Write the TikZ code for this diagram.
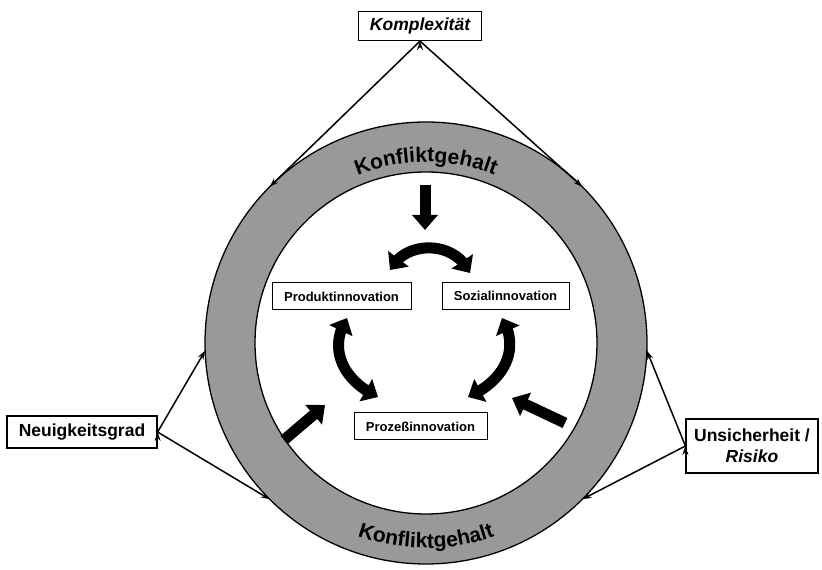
\documentclass[tikz,border=0pt]{standalone}
\usepackage{fontspec}
\setmainfont{Liberation Sans}
\usetikzlibrary{arrows.meta,bending,decorations.text}
\begin{document}
\begin{tikzpicture}[x=1pt,y=1pt]
\tikzstyle{factor}=[draw, line width=1.2pt, fill=white, inner sep=0pt, font=\fontsize{17.5}{21}\selectfont\bfseries]
\tikzstyle{innov}=[draw, line width=1pt, fill=white, inner sep=0pt, minimum height=27pt, font=\fontsize{13}{15}\selectfont\bfseries]
\tikzstyle{pointer}=[line width=1.5pt, -{Stealth[length=9pt,width=6pt]}]
\tikzstyle{fat}=[line width=11pt, -{Triangle[width=25pt,length=15pt]}]
\tikzstyle{fatboth}=[line width=11pt, {Triangle[width=25pt,length=14pt]}-{Triangle[width=25pt,length=14pt]}]
\tikzstyle{curved}=[decorate, decoration={text along path, text align=center,
  text={|\fontsize{21}{25}\selectfont\bfseries|Konfliktgehalt}}]

\useasboundingbox (0,0) rectangle (822,570);

% ring
\coordinate (c) at (426,227);
\fill[black!40, even odd rule] (c) circle[radius=221] (c) circle[radius=171];
\draw[line width=1.3pt] (c) circle[radius=221];
\draw[line width=1.3pt] (c) circle[radius=171];
\path[curved] (c) ++(123:181) arc[start angle=123, end angle=57, radius=181];
\path[curved] (c) ++(237:205) arc[start angle=237, end angle=303, radius=205];

% points on the ring
\path (c) ++(135:221) coordinate (tl);
\path (c) ++(45:221) coordinate (tr);
\path (c) ++(182:221) coordinate (ml);
\path (c) ++(225:221) coordinate (bl);
\path (c) ++(-2:221) coordinate (mr);
\path (c) ++(-45:221) coordinate (br);

% factors
\draw (420,544) node[factor, minimum width=123pt, minimum height=29pt] (komplex) {\itshape Komplexität};
\draw (82,138) node[factor, minimum width=150pt, minimum height=32pt] (neuig) {Neuigkeitsgrad};
\draw (752,124) node[factor, minimum width=132pt, minimum height=54pt, align=center] (unsich) {Unsicherheit /\\\itshape Risiko};

\draw[pointer] (komplex.south) edge (tl) edge (tr);
\draw[pointer] (neuig.east) edge (ml) edge (bl);
\draw[pointer] (unsich.west) edge (mr) edge (br);

% innovations
\draw (341.5,273.5) node[innov, minimum width=139pt] (prod) {Produktinnovation};
\draw (505.5,274) node[innov, minimum width=127pt] (sozial) {Sozialinnovation};
\draw (420.5,143.5) node[innov, minimum width=133pt] (proz) {Prozeßinnovation};

% thick arrows
\coordinate (d0) at (425,385);
\coordinate (d1) at (425,340);
\coordinate (ps0) at (390,300);
\coordinate (ps1) at (470,297);
\coordinate (pp0) at (347,252);
\coordinate (pp1) at (378,173);
\coordinate (sp0) at (502,252);
\coordinate (sp1) at (468,173);
\coordinate (l0) at (284,130);
\coordinate (l1) at (325,165);
\coordinate (r0) at (565,147);
\coordinate (r1) at (512,172);

\draw[fat] (d0) -- (d1);
\draw[fatboth] (ps0) .. controls (405,330) and (455,330) .. (ps1);
\draw[fatboth] (pp0) .. controls (328,222) and (342,190) .. (pp1);
\draw[fatboth] (sp0) .. controls (520,222) and (506,190) .. (sp1);
\draw[fat] (l0) -- (l1);
\draw[fat] (r0) -- (r1);
\end{tikzpicture}
\end{document}
